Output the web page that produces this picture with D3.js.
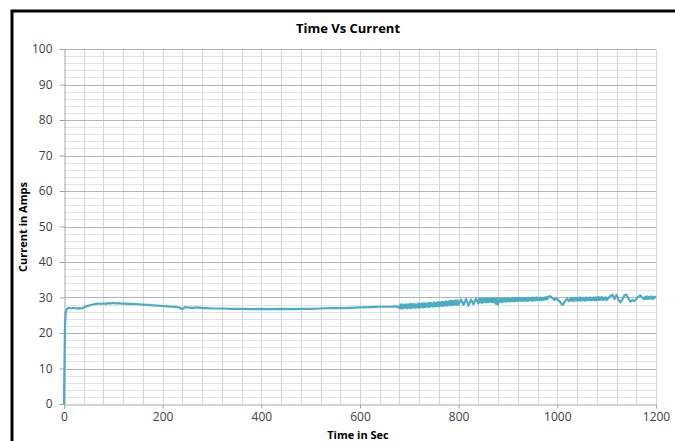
<!DOCTYPE html>
<html><head><meta charset="utf-8">
<script src="https://cdn.jsdelivr.net/npm/d3@7"></script>
<style>
html,body{margin:0;padding:0;background:#fff;}
svg{display:block;font-family:"Open Sans",sans-serif;}
</style></head>
<body>
<svg id="c" width="675" height="441"></svg>
<script>
const title = "Time Vs Current";
const xTitle = "Time in Sec";
const yTitle = "Current in Amps";
const xTicks = [0,200,400,600,800,1000,1200];
const yTicks = [0,10,20,30,40,50,60,70,80,90,100];

// [time in sec, current in amps]
const readingsStart = [[0,0],[1,12],[2,22],[3,25],[4,26.2],[6,26.8],[8,27],[10,27.1],[15,26.9],[20,27.1],[25,26.9],[30,27],[35,26.9],[40,27.2],
[45,27.5],[50,27.7],[55,27.9],[60,28.1],[65,28.2],[70,28.3],[75,28.2],[80,28.3],[85,28.2],[90,28.4],[95,28.3],[100,28.5],[105,28.3],[110,28.4],[115,28.3],[120,28.3],[130,28.2],[140,28.2],[150,28.1],[160,28.0],[170,27.9],[180,27.8],[190,27.7],[200,27.6],[210,27.5],[220,27.4],[230,27.3],[235,27.1],[240,26.7],[245,27.3],[250,27.2],[260,27.1],[270,27.2],[280,27.0],[290,27.0],[300,26.9],[320,26.9],[340,26.8],[360,26.8],[380,26.7],[400,26.8],[420,26.7],[440,26.8],[460,26.7],[480,26.8],[500,26.8],[520,26.9],[540,27.0],[560,27.0],[580,27.1],[600,27.2],[620,27.3],[640,27.4],[660,27.4],[675,27.5]];

const readingsNoisy1 = [[680,27.0],[682,28.0],[684,26.9],[686,28.1],[688,27.0],[690,27.9],[692,27.1],[694,28.1],[696,26.9],[698,28.0],[700,27.1],[702,28.2],[704,27.0],[706,28.1],[708,27.2],[710,28.2],[712,27.1],[714,28.0],[716,27.2],[718,28.3],[720,27.1],[722,28.2],[724,27.3],[726,28.3],[728,27.2],[730,28.4],[732,27.3],[734,28.2],[736,27.4],[738,28.4],[740,27.3],[742,28.5],[744,27.5],[746,28.4],[748,27.4],[750,28.6],[752,27.5],[754,28.5],[756,27.6],[758,28.7],[760,27.5],[762,28.6],[764,27.7],[766,28.8],[768,27.6],[770,28.7],[772,27.8],[774,28.9],[776,27.7],[778,28.8],[780,27.9],[782,29.0],[784,27.8],[786,29.1],[788,27.9],[790,29.0],[792,28.0],[794,29.2],[796,27.9],[798,29.1],[800,28.0],
[805,29.4],[810,27.9],[815,29.6],[820,27.7],[825,29.4],[830,28.1],[835,29.7],[840,28.4]];

const readingsNoisy2 = [[842,29.6],[844,28.6],[846,29.7],[848,28.5],[850,29.6],[852,28.7],[854,29.7],[856,28.6],[858,29.8],[860,28.7],[862,29.6],[864,28.8],[866,29.7],[868,28.7],[870,29.8],[872,28.6],[874,29.7],[876,28.2],[878,29.8],[880,28.0],[882,29.7],[884,28.8],[886,29.8],[888,28.7],[890,29.6],[892,28.9],[894,29.8],[896,28.8],[898,29.7],[900,28.9],[902,29.8],[904,28.9],[906,29.7],[908,29.0],[910,29.8],[912,28.9],[914,29.9],[916,29.0],[918,29.8],[920,29.0],[922,29.9],[924,29.1],[926,29.8],[928,29.0],[930,29.9],[932,29.1],[934,29.8],[936,29.1],[938,29.9],[940,29.0],[942,29.9],[944,29.2],[946,29.8],[948,29.1],[950,30.0],[952,29.2],[954,29.9],[956,29.2],[958,30.0],[960,29.3],[962,29.9],[964,29.2],[966,30.0],[968,29.3],[970,29.9],[972,29.3],[974,30.0],[976,29.4],[978,30.1],[980,29.6],[982,30.2],[984,30.4],[986,30.3],[988,30.1],[990,29.8],[992,29.6],[994,29.3],[996,29.7],[998,29.5],[1000,29.6]];

const readingsNoisy3 = [[1005,28.9],[1008,28.2],[1011,27.9],[1014,28.6],[1017,29.3],[1020,29.6],[1023,29.0],[1026,29.6],
[1028,29.1],[1030,29.9],[1032,29.0],[1034,29.8],[1036,29.2],[1038,29.9],[1040,29.1],[1042,29.8],[1044,29.2],[1046,30.0],[1048,29.1],[1050,29.9],[1052,29.2],[1054,29.8],[1056,29.1],[1058,30.0],[1060,29.2],[1062,29.9],[1064,29.3],[1066,30.0],[1068,29.2],[1070,29.9],[1072,29.3],[1074,30.0],[1076,29.2],[1078,30.0],[1080,29.3],[1082,30.1],[1084,29.3],[1086,30.0],[1088,29.4],[1090,30.1],[1092,29.3],[1094,29.9],[1096,29.4],[1098,30.0],[1100,29.3],
[1104,29.9],[1108,30.5],[1112,30.8],[1116,29.6],[1120,30.7],[1124,29.4],[1128,28.6],[1132,29.5],[1136,30.6],[1140,30.8],[1144,29.8],[1148,28.8],[1152,29.3],[1156,29.0],[1160,29.5],[1164,30.2],[1168,30.6],[1172,30.0],[1176,29.5],[1178,30.2],[1180,29.6],[1182,30.3],[1184,29.6],[1186,30.2],[1188,29.7],[1190,30.3],[1192,29.6],[1194,30.2],[1196,29.7],[1198,30.2],[1200,29.9]];

const svg = d3.select("#c");
const L = 64, R = 656, T = 49, B = 404;
const x = d3.scaleLinear().domain([0,1200]).range([L,R]);
const y = d3.scaleLinear().domain([0,100]).range([B,T]);

svg.append("rect").attr("x",12).attr("y",11).attr("width",700).attr("height",460)
  .attr("fill","none").attr("stroke","#000").attr("stroke-width",3);

svg.append("text").attr("x",348).attr("y",33).attr("text-anchor","middle")
  .attr("font-size",13).attr("font-weight","bold").attr("fill","#000").text(title);

const g = svg.append("g");
g.selectAll(".hm").data(d3.range(0,101,2).filter(v=>v%10!==0)).join("line")
  .attr("x1",L).attr("x2",R).attr("y1",d=>Math.round(y(d))+0.5).attr("y2",d=>Math.round(y(d))+0.5)
  .attr("stroke","#e3e3e3").attr("stroke-width",1);
g.selectAll(".vg").data(d3.range(40,1201,40)).join("line")
  .attr("y1",T).attr("y2",B).attr("x1",d=>Math.round(x(d))+0.5).attr("x2",d=>Math.round(x(d))+0.5)
  .attr("stroke","#d6d6d6").attr("stroke-width",1);
g.selectAll(".hM").data(yTicks.slice(1)).join("line")
  .attr("x1",L).attr("x2",R).attr("y1",d=>Math.round(y(d))+0.5).attr("y2",d=>Math.round(y(d))+0.5)
  .attr("stroke","#b3b3b3").attr("stroke-width",1);

const yAxis = d3.axisLeft(y).tickValues(yTicks).tickSize(5).tickPadding(7).tickFormat(d3.format("d"));
const ya = svg.append("g").attr("transform",`translate(${L+0.5},0)`).call(yAxis);
const xAxis = d3.axisBottom(x).tickValues(xTicks).tickSize(4).tickPadding(4).tickFormat(d3.format("d"));
const xa = svg.append("g").attr("transform",`translate(0,${B+0.5})`).call(xAxis);
[ya,xa].forEach(a=>{
  a.select(".domain").attr("stroke","#a6a6a6");
  a.selectAll(".tick line").attr("stroke","#a6a6a6");
  a.selectAll(".tick text").attr("fill","#404040").attr("font-size",12)
   .attr("font-family","'Open Sans',sans-serif");
});

svg.append("text").attr("x",358).attr("y",438.5).attr("text-anchor","middle")
  .attr("font-size",11).attr("font-weight","bold").attr("fill","#000").text(xTitle);
svg.append("text").attr("transform","translate(27,227) rotate(-90)").attr("text-anchor","middle")
  .attr("font-size",11).attr("font-weight","bold").attr("fill","#000").text(yTitle);

const data = readingsStart.concat(readingsNoisy1, readingsNoisy2, readingsNoisy3)
  .map(([t,v])=>({t,v}));
svg.append("path").datum(data)
  .attr("d", d3.line().x(d=>x(d.t)).y(d=>y(d.v)))
  .attr("fill","none").attr("stroke","#4bacc6").attr("stroke-width",2.2).attr("stroke-linejoin","round");
</script>
</body></html>
